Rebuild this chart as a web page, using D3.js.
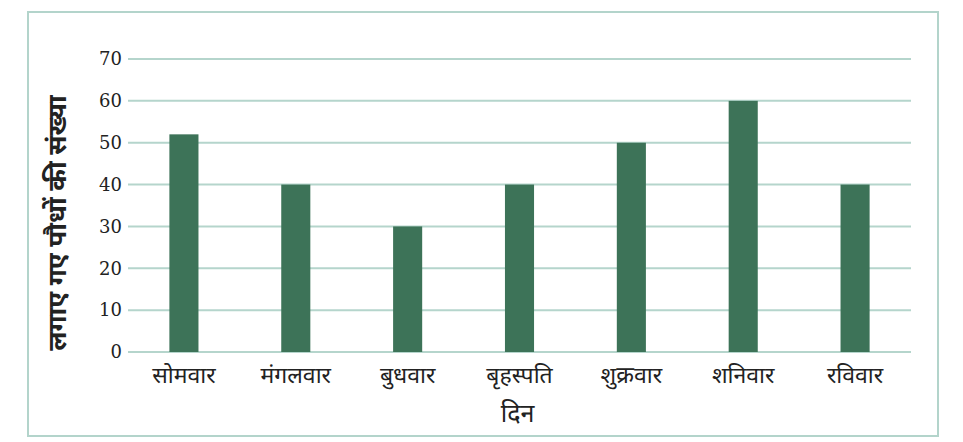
<!DOCTYPE html>
<html>
<head>
<meta charset="utf-8">
<script src="https://cdn.jsdelivr.net/npm/d3@7"></script>
<style>
  body { margin: 0; background: #fff; }
  svg { display: block; }
</style>
</head>
<body>
<svg width="963" height="442"></svg>
<script>
// days of the week and number of plants planted
var days = ["सोमवार", "मंगलवार", "बुधवार", "बृहस्पति", "शुक्रवार", "शनिवार", "रविवार"];
var plants = [52, 40, 30, 40, 50, 60, 40];
var yTicks = [0, 10, 20, 30, 40, 50, 60, 70];
var xTitle = "दिन";
var yTitle = "लगाए गए पौधों की संख्या";

var svg = d3.select("svg"),
    margin = {top: 59, right: 52, bottom: 90, left: 128},
    width = +svg.attr("width") - margin.left - margin.right,
    height = +svg.attr("height") - margin.top - margin.bottom;

// outer frame
svg.append("rect")
    .attr("x", 28).attr("y", 12)
    .attr("width", 910).attr("height", 424)
    .attr("fill", "none")
    .attr("stroke", "#b3d4cb")
    .attr("stroke-width", 2);

var g = svg.append("g").attr("transform", "translate(" + margin.left + "," + margin.top + ")");

var x = d3.scaleBand()
    .domain(days)
    .range([0, width])
    .paddingInner(0.74)
    .paddingOuter(0.37);

var y = d3.scaleLinear()
    .domain([0, 70])
    .range([height, 0]);

// grid lines
g.append("g")
    .selectAll("line")
    .data(yTicks)
    .enter().append("line")
    .attr("x1", 0)
    .attr("x2", width)
    .attr("y1", function(d) { return y(d); })
    .attr("y2", function(d) { return y(d); })
    .attr("stroke", "#b5d5cc")
    .attr("stroke-width", 2);

// bars
g.append("g")
    .selectAll("rect")
    .data(plants)
    .enter().append("rect")
    .attr("x", function(d, i) { return x(days[i]); })
    .attr("y", function(d) { return y(d); })
    .attr("width", x.bandwidth())
    .attr("height", function(d) { return height - y(d); })
    .attr("fill", "#3d7358");

// y axis
var yAxis = g.append("g")
    .call(d3.axisLeft(y).tickValues(yTicks).tickSize(0).tickPadding(6));
yAxis.select(".domain").remove();
yAxis.selectAll("text")
    .attr("font-family", "'DejaVu Serif', serif")
    .attr("font-size", 18)
    .attr("fill", "#222");

// x axis
var xAxis = g.append("g")
    .attr("transform", "translate(0," + height + ")")
    .call(d3.axisBottom(x).tickSize(0).tickPadding(15));
xAxis.select(".domain").remove();
xAxis.selectAll("text")
    .attr("font-family", "'Noto Sans', sans-serif")
    .attr("font-size", 23)
    .attr("fill", "#222");

// axis titles
svg.append("text")
    .attr("x", margin.left + width / 2 - 2)
    .attr("y", 422)
    .attr("text-anchor", "middle")
    .attr("font-family", "'Noto Sans', sans-serif")
    .attr("font-size", 25)
    .attr("fill", "#222")
    .text(xTitle);

svg.append("text")
    .attr("transform", "translate(66,223) rotate(-90)")
    .attr("text-anchor", "middle")
    .attr("font-family", "'Noto Sans', sans-serif")
    .attr("font-weight", "bold")
    .attr("font-size", 26)
    .attr("fill", "#222")
    .text(yTitle);
</script>
</body>
</html>
